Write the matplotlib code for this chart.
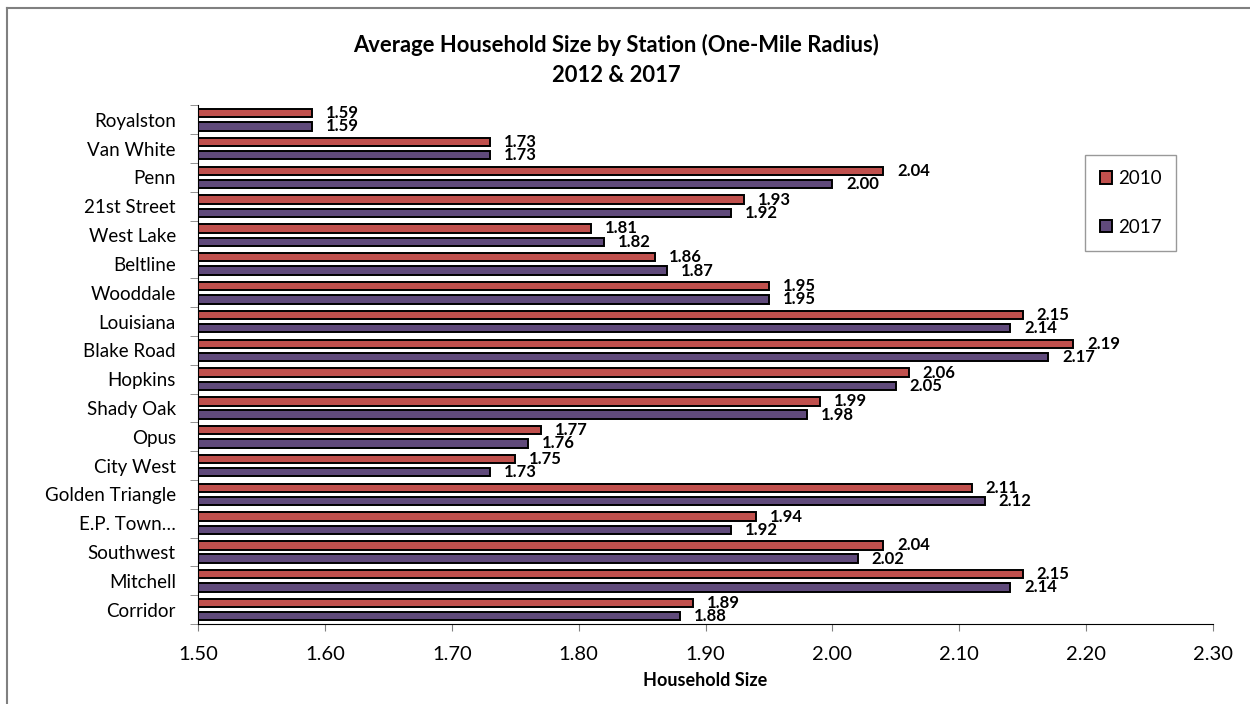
import numpy as np
import matplotlib
matplotlib.use('Agg')
import matplotlib.pyplot as plt
from matplotlib.lines import Line2D
from matplotlib.patches import Patch

plt.rcParams['font.family'] = ['Lato', 'DejaVu Sans']

# Station order, top to bottom
stations = ['Royalston', 'Van White', 'Penn', '21st Street', 'West Lake', 'Beltline',
            'Wooddale', 'Louisiana', 'Blake Road', 'Hopkins', 'Shady Oak', 'Opus',
            'City West', 'Golden Triangle', 'E.P. Town…', 'Southwest', 'Mitchell', 'Corridor']
size_2010 = [1.59, 1.73, 2.04, 1.93, 1.81, 1.86, 1.95, 2.15, 2.19, 2.06,
             1.99, 1.77, 1.75, 2.11, 1.94, 2.04, 2.15, 1.89]
size_2017 = [1.59, 1.73, 2.00, 1.92, 1.82, 1.87, 1.95, 2.14, 2.17, 2.05,
             1.98, 1.76, 1.73, 2.12, 1.92, 2.02, 2.14, 1.88]
xticks = [1.50, 1.60, 1.70, 1.80, 1.90, 2.00, 2.10, 2.20, 2.30]

red = '#C0504D'
purple = '#604A7B'
base = 1.50

fig = plt.figure(figsize=(12.5, 7.04), dpi=100)
ax = fig.add_axes([0.1584, 0.1136, 0.812, 0.7366])

y = np.arange(len(stations))
off = 0.23
h = 0.29
w10 = np.array(size_2010) - base
w17 = np.array(size_2017) - base
ax.barh(y - off, w10, height=h, left=base, color=red, edgecolor='black', linewidth=1.4)
ax.barh(y + off, w17, height=h, left=base, color=purple, edgecolor='black', linewidth=1.4)

# value labels just past each bar end
for yi, v in zip(y - off, size_2010):
    ax.annotate(f'{v:.2f}', (v, yi), xytext=(10, 0), textcoords='offset points',
                ha='left', va='center', fontsize=12, fontweight='bold')
for yi, v in zip(y + off, size_2017):
    ax.annotate(f'{v:.2f}', (v, yi), xytext=(10, 0), textcoords='offset points',
                ha='left', va='center', fontsize=12, fontweight='bold')

ax.set_xlim(1.50, 2.30)
ax.set_ylim(len(stations) - 0.5, -0.5)
ax.set_xticks(xticks)
ax.set_xticklabels([f'{t:.2f}' for t in xticks], fontsize=14.5)
ax.set_yticks(y)
ax.set_yticklabels(stations, fontsize=13.5)
ax.set_yticks(np.arange(len(stations) + 1) - 0.5, minor=True)
ax.tick_params(axis='y', which='major', length=0, pad=16)
ax.tick_params(axis='y', which='minor', length=6, color='#808080')
ax.tick_params(axis='x', length=5, color='#808080', pad=11)

for s in ['top', 'right']:
    ax.spines[s].set_visible(False)
ax.spines['left'].set_color('black')
ax.spines['bottom'].set_color('black')

ax.set_xlabel('Household Size', fontsize=13, fontweight='bold', labelpad=6)

fig.text(0.493, 0.936, 'Average Household Size by Station (One-Mile Radius)',
         ha='center', va='center', fontsize=15.8, fontweight='bold')
fig.text(0.493, 0.893, '2012 & 2017', ha='center', va='center', fontsize=15.8, fontweight='bold')

handles = [Patch(facecolor=red, edgecolor='black', linewidth=1.4, label='2010'),
           Patch(facecolor=purple, edgecolor='black', linewidth=1.4, label='2017')]
leg = fig.legend(handles=handles, loc='upper left', bbox_to_anchor=(0.868, 0.78),
                 borderaxespad=0, fontsize=13.5, frameon=True, fancybox=False,
                 edgecolor='#808080', handlelength=0.65, handleheight=0.65,
                 handletextpad=0.3, labelspacing=1.7, borderpad=0.8)
leg.get_frame().set_linewidth(1.0)

# outer chart frame
fig.add_artist(Line2D([7 / 1250, 7 / 1250], [1 - 8 / 704, -0.1], color='#808080', linewidth=1.5))
fig.add_artist(Line2D([7 / 1250, 1.1], [1 - 8 / 704, 1 - 8 / 704], color='#808080', linewidth=1.5))

fig.savefig('out.png', dpi=100)
